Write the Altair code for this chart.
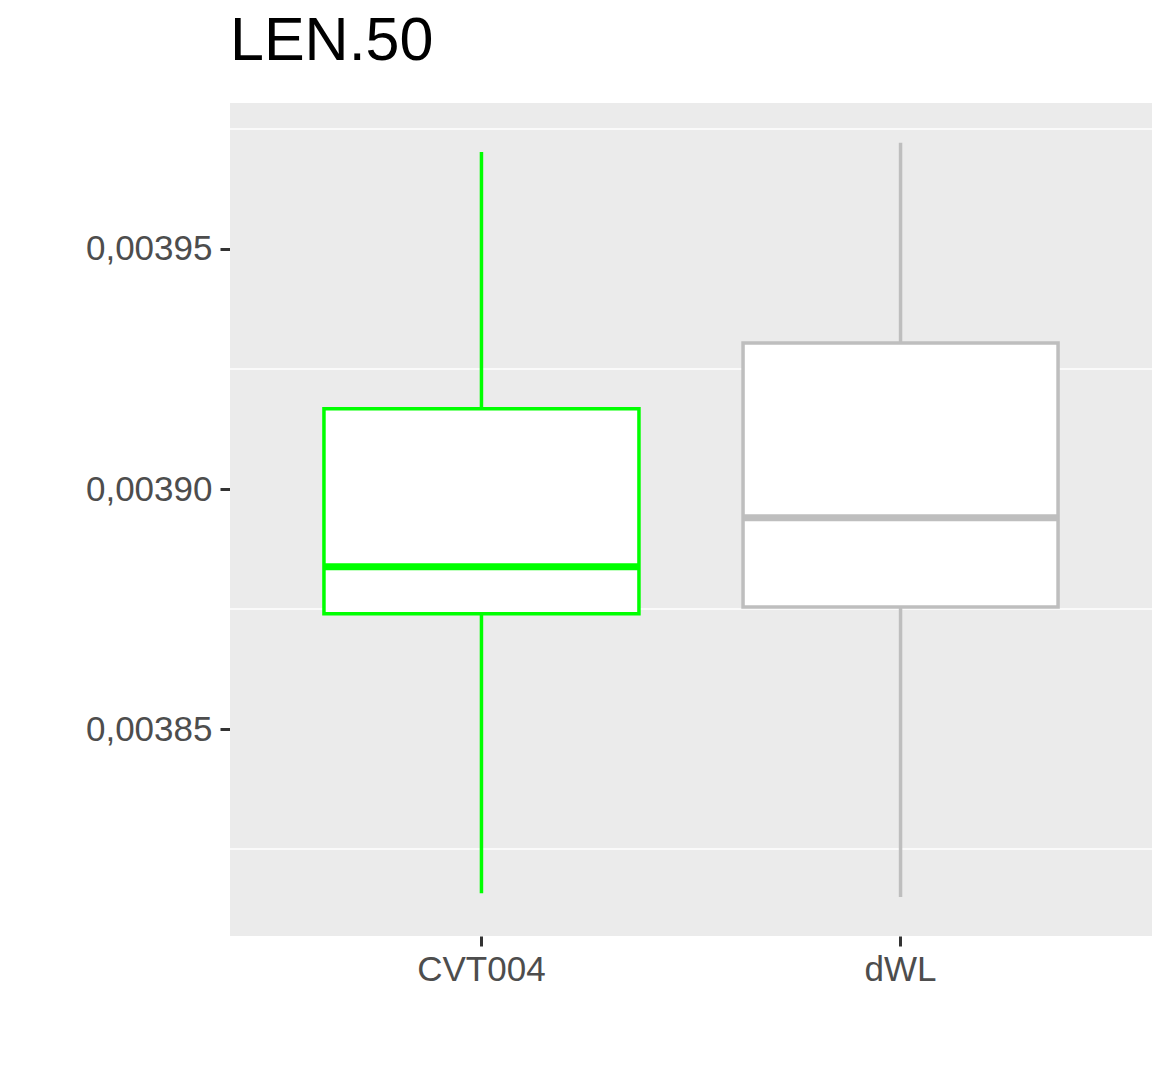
import altair as alt
import pandas as pd

groups = ["CVT004", "dWL"]
lower = [0.0038158, 0.0038150]
q1 = [0.0038740, 0.0038754]
median = [0.0038838, 0.0038940]
q3 = [0.0039167, 0.0039304]
upper = [0.0039702, 0.0039721]
colors = ["#00ff00", "#bebebe"]
major = [0.00385, 0.00390, 0.00395]
minor = [0.003825, 0.003875, 0.003925, 0.003975]

df = pd.DataFrame(dict(g=groups, lo=lower, q1=q1, med=median, q3=q3, hi=upper))
dom = [0.0038069, 0.0039804]
ys = alt.Scale(domain=dom, nice=False, zero=False)
xs = alt.Scale(domain=groups, paddingInner=0, paddingOuter=0.1)
col = alt.Color("g:N", scale=alt.Scale(domain=groups, range=colors), legend=None)
xenc = alt.X("g:N", title=None, scale=xs,
             axis=alt.Axis(labelAngle=0, labelFontSize=35, labelColor="#4d4d4d", tickColor="#333333",
                           tickSize=10, tickWidth=3, labelPadding=6, domain=False, grid=True,
                           gridColor="white", gridWidth=3.5, labelFont="Liberation Sans"))

bg = alt.Chart(pd.DataFrame(dict(a=[0]))).mark_rect(color="#ebebeb").encode(
    x=alt.value(0), x2=alt.value(922), y=alt.value(0), y2=alt.value(833))

minor_df = pd.DataFrame(dict(v=minor))
minor_l = alt.Chart(minor_df).mark_rule(color="white", strokeWidth=1.5).encode(y=alt.Y("v:Q", scale=ys))

base = alt.Chart(df)
whisk = base.mark_rule(strokeWidth=3.5).encode(
    x=xenc,
    y=alt.Y("lo:Q", scale=ys, title=None,
            axis=alt.Axis(values=major, labelExpr="replace(format(datum.value,'.5f'),'.',',')",
                          labelFontSize=35, labelColor="#4d4d4d", tickColor="#333333", tickSize=10,
                          tickWidth=3, labelPadding=8, domain=False, gridColor="white", gridWidth=3,
                          labelFont="Liberation Sans")),
    y2="hi:Q", color=col)
box = base.mark_bar(size=315, fill="white", strokeWidth=3.5).encode(
    x=alt.X("g:N", scale=xs), y=alt.Y("q1:Q", scale=ys), y2="q3:Q",
    stroke=alt.Stroke("g:N", scale=alt.Scale(domain=groups, range=colors), legend=None))
med = base.mark_tick(size=315, thickness=7, opacity=1).encode(
    x=alt.X("g:N", scale=xs), y=alt.Y("med:Q", scale=ys), color=col)

chart = alt.layer(bg, minor_l, whisk, box, med).properties(
    width=922, height=833,
    title=alt.TitleParams("LEN.50", anchor="start", frame="group", fontSize=61, font="Liberation Sans",
                          fontWeight="normal", color="black", offset=30),
    autosize=alt.AutoSizeParams(type="none"),
    padding={"left": 222, "top": 95, "right": 15, "bottom": 131},
).configure_view(stroke=None)

chart.save("out.html", embed_options={"renderer": "svg", "actions": False})
